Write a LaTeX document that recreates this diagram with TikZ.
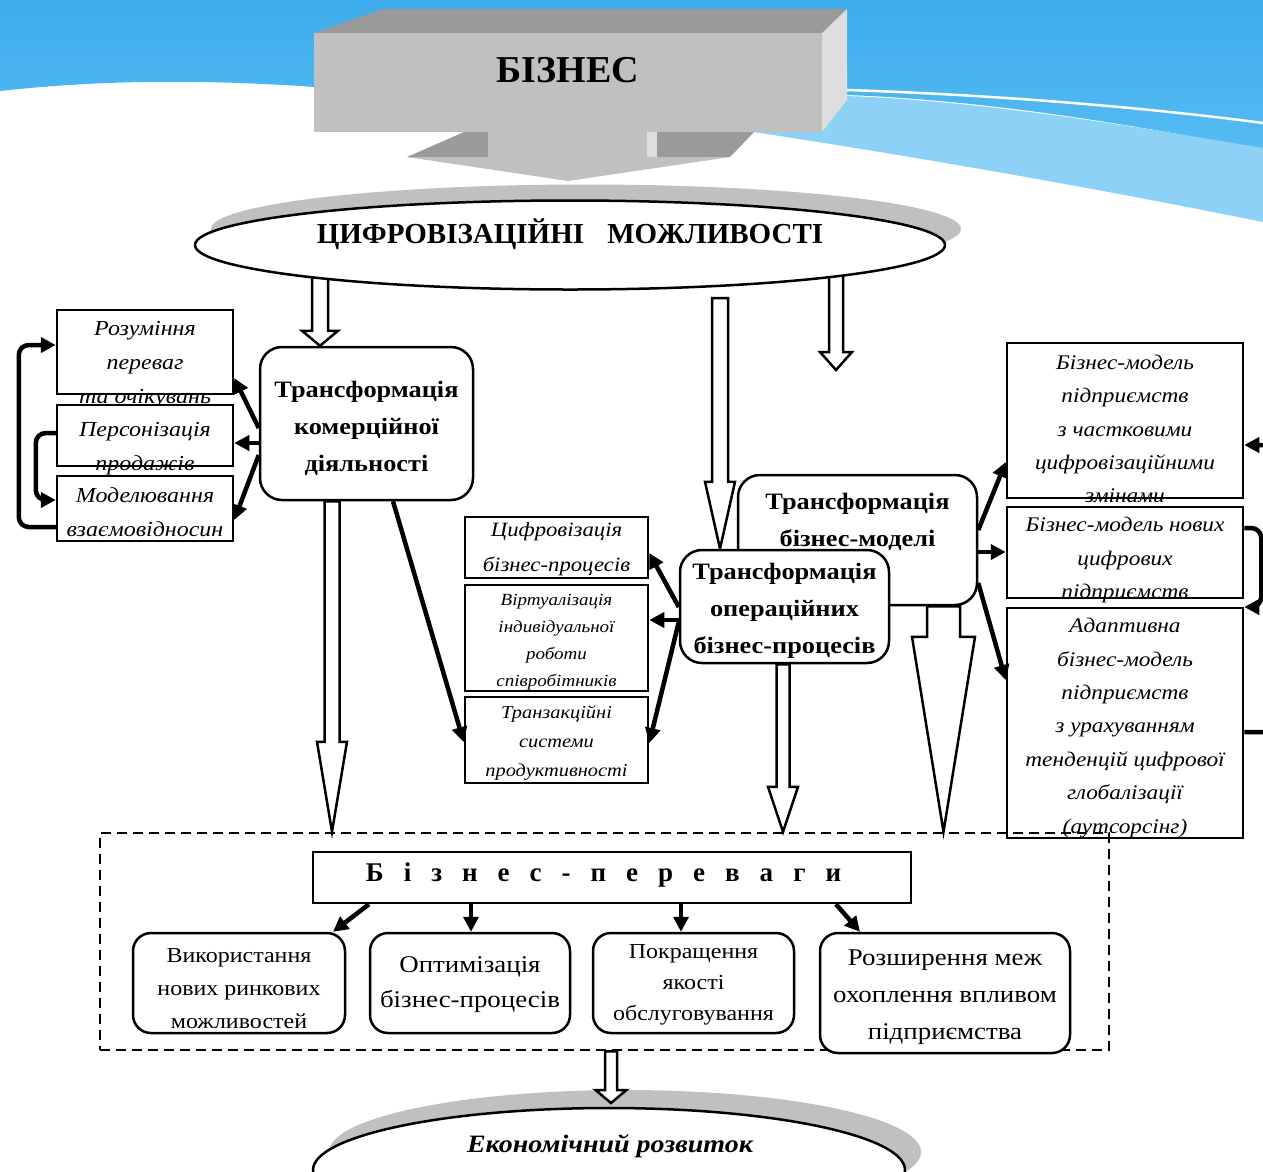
\documentclass[tikz,border=0pt]{standalone}
\usepackage{fontspec}
\setmainfont[FakeStretch=1.12]{Liberation Serif}
\newfontfamily\capsfont{Liberation Serif}
\usetikzlibrary{arrows.meta,calc,shapes.geometric}
\pgfdeclarelayer{back}
\pgfdeclarelayer{arrowlayer}
\pgfsetlayers{back,arrowlayer,main}

\definecolor{skyblue}{HTML}{3DACEC}
\definecolor{skybluelow}{HTML}{55BBF3}
\definecolor{paleblue}{HTML}{8DD1F7}
\definecolor{shadowgray}{HTML}{C0C0C0}
\definecolor{topgray}{HTML}{9A9A9A}
\definecolor{sidegray}{HTML}{DEDEDE}
\definecolor{frontgray}{HTML}{C0C0C0}

\newcommand{\setfs}[2]{\fontsize{#1}{#2}\selectfont}
\newcommand{\widegaps}{\spaceskip=20pt\relax}
\newcommand{\blockdown}[5]{%
  \draw [hollow] let \p1=(#1), \p2=(#2) in
    (\x1-#3,\y1) -- (\x1-#3,\y2+#5) -- (\x1-#4,\y2+#5) -- (\x1,\y2)
    -- (\x1+#4,\y2+#5) -- (\x1+#3,\y2+#5) -- (\x1+#3,\y1) -- cycle;}

\tikzset{
  sqbox/.style={draw,line width=2.5pt,fill=white,inner sep=0pt},
  rbox/.style={sqbox,rounded corners=22pt},
  itxt/.style={align=center,inner sep=0pt,font=\itshape\setfs{21.4}{34}},
  btxt/.style={align=center,inner sep=0pt,font=\bfseries\setfs{23.5}{37}},
  rtxt/.style={align=center,inner sep=0pt,font=\setfs{22}{33}},
  fatarrow/.style={line width=4.5pt,-{Triangle[length=15pt,width=15pt]}},
  looparrow/.style={fatarrow,rounded corners=10pt},
  hollow/.style={draw,line width=2.5pt,fill=white,line join=miter},
  dashframe/.style={draw,line width=2.5pt,dash pattern=on 10pt off 6pt,inner sep=0pt},
}

\begin{document}
\begin{tikzpicture}[x=1pt,y=-1pt]
    \useasboundingbox (0,0) rectangle (1263,1171);
    \clip (0,0) rectangle (1263,1171);
    \begin{pgfonlayer}{back}
    \clip (0,0) rectangle (1263,1171);
    \fill [white] (0,0) rectangle (1263,1171);
    \shade [top color=skyblue,bottom color=skybluelow] (0,0) -- (1263,0) -- (1263,150) .. controls (1120,122) and (980,100) .. (847,95) -- (315,87) .. controls (200,79) and (100,80) .. (0,91) -- cycle;
    \fill [paleblue] (847,96) .. controls (980,101) and (1120,124) .. (1263,148) -- (1263,222) .. controls (1080,185) and (880,150) .. (660,118) -- (660,96) -- cycle;
    \draw [white,line width=2.5pt] (847,90) .. controls (1000,95) and (1150,108) .. (1263,123);
    \fill [shadowgray] (586,229) ellipse [x radius=375,y radius=44.5];
    \fill [shadowgray] (625,1152) ellipse [x radius=296,y radius=62];
    \end{pgfonlayer}

    \fill [topgray] (314,33) -- (383,9) -- (847,9) -- (822,33) -- cycle;
    \fill [sidegray] (822,33) -- (847,9) -- (847,100) -- (822,132) -- cycle;
    \fill [frontgray] (314,33) rectangle (822,132);
    \fill [topgray] (464,132) -- (488,132) -- (488,157) -- (407,157) -- cycle;
    \fill [sidegray] (647,132) rectangle (657,157);
    \fill [topgray] (657,132) -- (754,132) -- (730,157) -- (657,157) -- cycle;
    \fill [frontgray] (488,132) rectangle (647,157);
    \fill [frontgray] (407,157) -- (730,157) -- (568,181) -- cycle;
    \node [font=\capsfont\bfseries\setfs{38}{38},anchor=base] (biz) at (568,82) {БІЗНЕС};

    \node [ellipse,draw,line width=2.5pt,fill=white,minimum width=750pt,minimum height=89pt,inner sep=0pt] (cifr) at (570,245) {};
    \node [font=\capsfont\bfseries\setfs{29}{29},anchor=base] (cifrtxt) at (570,243) {ЦИФРОВІЗАЦІЙНІ\hspace{16pt} МОЖЛИВОСТІ};

    \node [sqbox,minimum width=176pt,minimum height=84pt] (rozum) at (145,352) {};
    \node [itxt] (rozumtxt) at (145,365) {Розуміння\\переваг\\та очікувань};
    \node [sqbox,minimum width=176pt,minimum height=61pt] (person) at (145,435.5) {};
    \node [itxt] (persontxt) at (145,449) {Персонізація\\продажів};
    \node [sqbox,minimum width=176pt,minimum height=65pt] (model) at (145,508.5) {};
    \node [itxt] (modeltxt) at (145,512) {Моделювання\\взаємовідносин};
    \node [rbox,minimum width=213pt,minimum height=153pt] (komerc) at (366.5,423.5) {};
    \node [btxt] (komerctxt) at (366.5,428) {Трансформація\\комерційної\\діяльності};

    \node [sqbox,minimum width=183pt,minimum height=61pt] (cbp) at (556.5,547.5) {};
    \node [itxt,font=\itshape\setfs{20.3}{35}] (cbptxt) at (556.5,549) {Цифровізація\\бізнес-процесів};
    \node [sqbox,minimum width=183pt,minimum height=106pt] (virt) at (556.5,638) {};
    \node [itxt,font=\itshape\setfs{17}{27}] (virttxt) at (556.5,642) {Віртуалізація\\індивідуальної\\роботи\\співробітників};
    \node [sqbox,minimum width=183pt,minimum height=86pt] (tranz) at (556.5,740) {};
    \node [itxt,font=\itshape\setfs{18.2}{29}] (tranztxt) at (556.5,743) {Транзакційні\\системи\\продуктивності};

    \node [rbox,minimum width=239pt,minimum height=130pt] (bm) at (857.5,540) {};
    \node [btxt] (bmtxt) at (857.5,522) {Трансформація\\бізнес-моделі};
    \node [rbox,minimum width=209pt,minimum height=113pt] (oper) at (784.5,606.5) {};
    \node [btxt] (opertxt) at (784.5,611) {Трансформація\\операційних\\бізнес-процесів};

    \node [sqbox,minimum width=236pt,minimum height=155pt] (bmone) at (1125,420.5) {};
    \node [itxt,font=\itshape\setfs{20.8}{33.4}] (bmonetxt) at (1125,429) {Бізнес-модель\\підприємств\\з частковими\\цифровізаційними\\змінами};
    \node [sqbox,minimum width=236pt,minimum height=91pt] (bmtwo) at (1125,552.5) {};
    \node [itxt,font=\itshape\setfs{20.8}{33.4}] (bmtwotxt) at (1125,560) {Бізнес-модель нових\\цифрових\\підприємств};
    \node [sqbox,minimum width=236pt,minimum height=230pt] (bmthree) at (1125,723) {};
    \node [itxt,font=\itshape\setfs{20.8}{33.4}] (bmthreetxt) at (1125,728) {Адаптивна\\бізнес-модель\\підприємств\\з урахуванням\\тенденцій цифрової\\глобалізації\\(аутсорсінг)};

    \node [dashframe,minimum width=1009pt,minimum height=217pt] (frame) at (604.5,941.5) {};
    \node [sqbox,minimum width=598pt,minimum height=51pt] (pereva) at (612,877.5) {};
    \node [font=\capsfont\bfseries\setfs{27}{27}\widegaps,anchor=base] (perevatxt) at (603.5,881) {Б і з н е с - п е р е в а г и};

    \node [rbox,rounded corners=18pt,minimum width=212pt,minimum height=100pt] (bone) at (239,983) {};
    \node [rtxt,font=\setfs{21.4}{33}] (bonetxt) at (239,989) {Використання\\нових ринкових\\можливостей};
    \node [rbox,rounded corners=18pt,minimum width=200pt,minimum height=100pt] (btwo) at (470,983) {};
    \node [rtxt,font=\setfs{24}{35}] (btwotxt) at (470,985) {Оптимізація\\бізнес-процесів};
    \node [rbox,rounded corners=18pt,minimum width=201pt,minimum height=100pt] (bthree) at (693.5,983) {};
    \node [rtxt,font=\setfs{21.4}{31}] (bthreetxt) at (693.5,985) {Покращення\\якості\\обслуговування};
    \node [rbox,rounded corners=18pt,minimum width=250pt,minimum height=120pt] (bfour) at (945,993) {};
    \node [rtxt,font=\setfs{24}{37}] (bfourtxt) at (945,997) {Розширення меж\\охоплення впливом\\підприємства};

    \node [ellipse,draw,line width=2.5pt,fill=white,minimum width=592pt,minimum height=124pt,inner sep=0pt] (econ) at (609,1170) {};
    \node [font=\bfseries\itshape\setfs{25}{25},anchor=base] (econtxt) at (610,1152) {Економічний розвиток};

    \coordinate (midtop) at (720,298);
    \coordinate (shortend) at (836,370);
    \coordinate (econtip) at (611,1103);
    \begin{pgfonlayer}{arrowlayer}
    \blockdown{cifr.center -| 320,0}{komerc.north -| 320,0}{8}{18}{15}
    \blockdown{midtop}{oper.north -| 720,0}{8}{15}{67}
    \blockdown{cifr.center -| 836,0}{shortend}{7}{16}{18}
    \blockdown{komerc.south -| 332,0}{frame.north -| 332,0}{7.5}{15}{90}
    \blockdown{oper.south -| 783,0}{frame.north -| 783,0}{6.5}{15}{45}
    \blockdown{bm.south -| 943.5,0}{frame.north -| 943.5,0}{16.5}{31.5}{195}
    \blockdown{frame.south -| 611,0}{econtip}{6}{15.5}{13}
    \end{pgfonlayer}

    \draw [fatarrow] (komerc.west |- 0,428) -- (rozum.east |- 0,378);
    \draw [fatarrow] (komerc.west |- 0,443) -- (person.east |- 0,443);
    \draw [fatarrow] (komerc.west |- 0,455) -- (model.east |- 0,520);
    \draw [looparrow] (model.west |- 0,527) -- ++(-37,0) |- (rozum.west |- 0,345);
    \draw [looparrow] (person.west |- 0,433) -- ++(-20,0) |- (model.west |- 0,500);
    \draw [fatarrow] (komerc.south -| 393,0) -- (tranz.west |- 0,742);
    \draw [fatarrow] (oper.west |- 0,607) -- (cbp.east |- 0,553);
    \draw [fatarrow] (oper.west |- 0,620) -- (virt.east |- 0,620);
    \draw [fatarrow] (oper.west |- 0,622) -- (tranz.east |- 0,743);
    \draw [fatarrow] (bm.east |- 0,530) -- (bmone.west |- 0,462);
    \draw [fatarrow] (bm.east |- 0,552) -- (bmtwo.west |- 0,552);
    \draw [fatarrow] (bm.east |- 0,583) -- (bmthree.west |- 0,680);
    \draw [looparrow] (bmtwo.east |- 0,528) -- ++(17,0) |- (bmthree.east |- 0,607);
    \draw [looparrow] (bmthree.east |- 0,732) -- ++(45,0) |- (bmone.east |- 0,445);
    \draw [fatarrow] (pereva.south -| 369,0) -- (bone.north -| 333,0);
    \draw [fatarrow] (pereva.south -| 471,0) -- (btwo.north -| 471,0);
    \draw [fatarrow] (pereva.south -| 681,0) -- (bthree.north -| 681,0);
    \draw [fatarrow] (pereva.south -| 836,0) -- (bfour.north -| 860,0);
\end{tikzpicture}
\end{document}
